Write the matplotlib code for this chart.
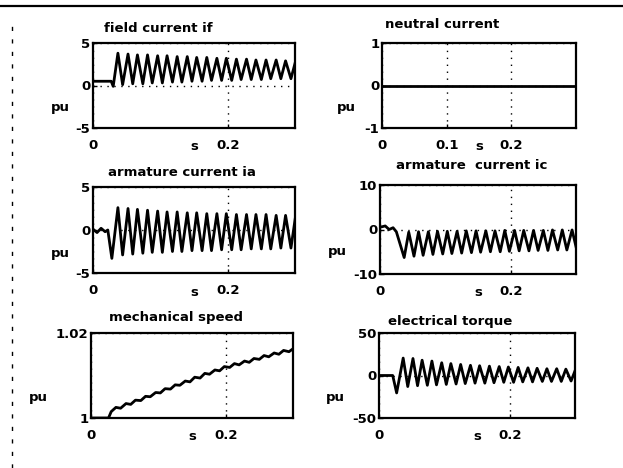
import matplotlib
matplotlib.use("Agg")
import matplotlib.pyplot as plt
from matplotlib.lines import Line2D

# ---------------- data ----------------
# times of the alternating extrema of the oscillations (s)
t_ext = [0.037, 0.044, 0.052, 0.059, 0.066, 0.074, 0.081, 0.088, 0.096, 0.103,
         0.110, 0.118, 0.125, 0.132, 0.140, 0.147, 0.154, 0.162, 0.169, 0.176,
         0.184, 0.191, 0.198, 0.206, 0.213, 0.220, 0.228, 0.235, 0.242, 0.250,
         0.257, 0.264, 0.272, 0.279, 0.286, 0.294, 0.301]

# field current if (pu)
if_pre_t = [0.0, 0.027, 0.030]
if_pre_v = [0.5, 0.5, -0.1]
if_peaks = [3.8, 3.7, 3.6, 3.6, 3.5, 3.5, 3.4, 3.4, 3.3, 3.3, 3.2, 3.2, 3.1, 3.1,
            3.0, 3.0, 3.0, 2.9, 2.9]
if_troughs = [0.1, 0.2, 0.2, 0.3, 0.3, 0.4, 0.4, 0.5, 0.5, 0.6, 0.6, 0.6, 0.7,
              0.7, 0.7, 0.8, 0.8, 0.8]

# neutral current (pu)
in_t = [0.0, 0.3]
in_v = [0.0, 0.0]

# armature current ia (pu)
ia_pre_t = [0.0, 0.006, 0.012, 0.018, 0.022, 0.028]
ia_pre_v = [0.1, -0.3, 0.2, -0.2, 0.0, -3.3]
ia_peaks = [2.6, 2.5, 2.4, 2.3, 2.2, 2.1, 2.1, 2.0, 2.0, 1.9, 1.9, 1.9, 1.8,
            1.8, 1.8, 1.8, 1.7, 1.7, 1.7]
ia_troughs = [-2.9, -2.8, -2.7, -2.6, -2.6, -2.5, -2.5, -2.4, -2.4, -2.4, -2.3,
              -2.3, -2.3, -2.2, -2.2, -2.2, -2.1, -2.1]

# armature current ic (pu)
ic_pre_t = [0.0, 0.008, 0.014, 0.020, 0.025]
ic_pre_v = [0.5, 0.8, 0.0, 0.4, -0.5]
ic_troughs = [-6.3, -6.0, -5.8, -5.6, -5.5, -5.4, -5.3, -5.2, -5.1, -5.0, -5.0,
              -4.9, -4.8, -4.8, -4.7, -4.7, -4.6, -4.6, -4.5]
ic_peaks = [-0.6, -0.5, -0.5, -0.4, -0.4, -0.4, -0.3, -0.3, -0.3, -0.3, -0.2,
            -0.2, -0.2, -0.2, -0.2, -0.1, -0.1, -0.1]

# mechanical speed (pu)
w_pre_t = [0.0, 0.026, 0.030]
w_pre_v = [1.0, 1.0, 1.0015]
w_ext = [1.0025, 1.0023, 1.0034, 1.0032, 1.0042, 1.0041, 1.0051, 1.0050, 1.0060,
         1.0059, 1.0069, 1.0068, 1.0078, 1.0077, 1.0087, 1.0085, 1.0096, 1.0094,
         1.0105, 1.0103, 1.0113, 1.0111, 1.0121, 1.0119, 1.0128, 1.0125, 1.0134,
         1.0131, 1.0140, 1.0138, 1.0147, 1.0144, 1.0153, 1.0150, 1.0159, 1.0156,
         1.0164]

# electrical torque (pu)
te_pre_t = [0.0, 0.021, 0.027]
te_pre_v = [0.0, 0.0, -20.5]
te_peaks = [20.5, 20.0, 18.0, 17.0, 15.0, 14.0, 13.0, 12.0, 11.5, 11.0, 10.5,
            10.0, 9.5, 9.0, 8.5, 8.0, 8.0, 7.5, 7.5]
te_troughs = [-13.0, -12.0, -11.5, -11.0, -10.5, -10.0, -9.5, -9.0, -9.0, -8.5,
              -8.0, -8.0, -7.5, -7.5, -7.0, -7.0, -7.0, -6.5]

titles = ["field current if", "neutral current", "armature current ia",
          "armature  current ic", "mechanical speed", "electrical torque"]


def interleave(a, b):
    out = []
    for i in range(len(a)):
        out.append(a[i])
        if i < len(b):
            out.append(b[i])
    return out


# ---------------- figure ----------------
W, H = 623, 468
plt.rcParams["font.family"] = "DejaVu Sans"
plt.rcParams["font.weight"] = "bold"
FS = 9.5
fig = plt.figure(figsize=(W / 100, H / 100), dpi=100)


def box(l, r, t, b):
    return [l / W, 1 - b / H, (r - l) / W, (b - t) / H]


def style(ax, ylim, yticks, yticklabels, xticks, xticklabels):
    ax.set_xlim(0, 0.3)
    ax.set_ylim(*ylim)
    ax.set_xticks(xticks)
    ax.set_xticklabels(xticklabels)
    ax.set_yticks(yticks)
    ax.set_yticklabels(yticklabels)
    ax.grid(True, color="k", linestyle=(0, (1, 4)), linewidth=1.0)
    for s in ax.spines.values():
        s.set_linewidth(1.6)
    ax.tick_params(axis="both", direction="in", length=3, width=1,
                   labelsize=FS)
    ax.tick_params(axis="x", pad=8)
    ax.tick_params(axis="y", pad=2)
    for lab in ax.get_xticklabels() + ax.get_yticklabels():
        lab.set_fontweight("bold")
    ax.annotate("s", xy=(0.5, 0), xycoords="axes fraction",
                xytext=(0, -9), textcoords="offset points",
                ha="center", va="top", fontsize=FS, fontweight="bold")


LW = 2.0
xt = [0, 0.2]
xtl = ["0", "0.2"]

# field current
ax1 = fig.add_axes(box(93, 295, 43, 128))
ax1.plot(if_pre_t + t_ext, if_pre_v + interleave(if_peaks, if_troughs),
         color="k", lw=LW)
style(ax1, (-5, 5), [-5, 0, 5], ["-5", "0", "5"], xt, xtl)

# neutral current
ax2 = fig.add_axes(box(382, 576, 43, 128))
ax2.plot(in_t, in_v, color="k", lw=LW)
style(ax2, (-1, 1), [-1, 0, 1], ["-1", "0", "1"], [0, 0.1, 0.2],
      ["0", "0.1", "0.2"])

# armature current ia
ax3 = fig.add_axes(box(93, 295, 187, 273))
ax3.plot(ia_pre_t + t_ext, ia_pre_v + interleave(ia_peaks, ia_troughs),
         color="k", lw=LW)
style(ax3, (-5, 5), [-5, 0, 5], ["-5", "0", "5"], xt, xtl)

# armature current ic
ax4 = fig.add_axes(box(380, 576, 185, 274))
ax4.plot(ic_pre_t + t_ext, ic_pre_v + interleave(ic_troughs, ic_peaks),
         color="k", lw=LW)
style(ax4, (-10, 10), [-10, 0, 10], ["-10", "0", "10"], xt, xtl)

# mechanical speed
ax5 = fig.add_axes(box(91, 293, 333, 418))
ax5.plot(w_pre_t + t_ext, w_pre_v + w_ext, color="k", lw=LW)
style(ax5, (1.0, 1.02), [1.0, 1.02], ["1", "1.02"], xt, xtl)

# electrical torque
ax6 = fig.add_axes(box(379, 575, 333, 418))
ax6.plot(te_pre_t + t_ext, te_pre_v + interleave(te_peaks, te_troughs),
         color="k", lw=LW)
style(ax6, (-50, 50), [-50, 0, 50], ["-50", "0", "50"], xt, xtl)

# titles (pixel centres)
title_pos = [(158, 28), (442, 25), (182, 172), (472, 165), (176, 318), (450, 322)]
for txt, (px, py) in zip(titles, title_pos):
    fig.text(px / W, 1 - py / H, txt, ha="center", va="center",
             fontsize=FS, fontweight="bold")

# y labels "pu"
pu_pos = [(60, 107), (346, 107), (60, 253), (337, 252), (38, 397), (335, 397)]
for px, py in pu_pos:
    fig.text(px / W, 1 - py / H, "pu", ha="center", va="center",
             fontsize=FS, fontweight="bold")

# scanned page frame
fig.add_artist(Line2D([0, 1], [1 - 6 / H, 1 - 6 / H], color="k", lw=1.6,
                      transform=fig.transFigure))
fig.add_artist(Line2D([12 / W, 12 / W], [0, 1 - 20 / H], color="k", lw=1.0,
                      linestyle=(0, (3, 6)), transform=fig.transFigure))

fig.savefig("out.png", dpi=100)
